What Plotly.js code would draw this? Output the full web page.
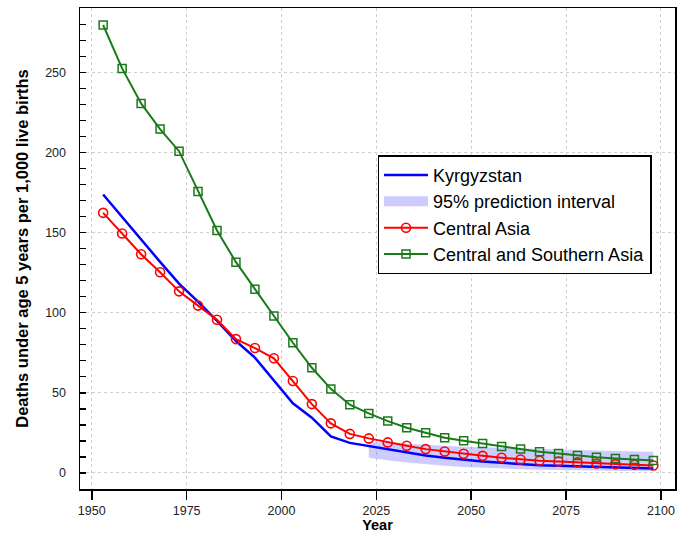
<!DOCTYPE html>
<html>
<head>
<meta charset="utf-8">
<script src="https://cdn.plot.ly/plotly-3.0.1.min.js"></script>
<style>html,body{margin:0;padding:0;background:#fff;}#chart{width:696px;height:539px;}</style>
</head>
<body>
<div id="chart"></div>
<script>
// Years (5-year period midpoints)
const years = [1953,1958,1963,1968,1973,1978,1983,1988,1993,1998,2003,2008,2013,2018,2023,2028,2033,2038,2043,2048,2053,2058,2063,2068,2073,2078,2083,2088,2093,2098];

// Kyrgyzstan
const kyrgyzstan = [173.9,159.9,145.3,131.8,118.2,107.0,94.9,82.4,72.0,58.0,43.5,34.5,22.8,18.8,16.8,15.1,13.0,10.9,9.5,8.2,7.2,6.4,5.5,4.9,4.5,4.1,3.6,3.2,3.0,2.8];

// Central Asia
const centralAsia = [162.4,149.5,136.6,125.3,113.4,104.5,95.7,83.6,78.0,71.6,57.4,43.0,31.0,24.4,21.6,19.1,17.0,14.9,13.4,12.0,10.7,9.5,8.4,7.6,7.2,6.6,5.9,5.5,5.1,4.7];

// Central and Southern Asia
const centralSouthernAsia = [279.7,252.6,230.7,214.7,200.9,175.7,151.4,131.6,114.7,98.0,81.3,65.7,52.5,42.6,37.2,32.4,28.2,25.1,22.0,20.1,18.4,16.6,14.9,13.2,12.2,10.9,9.9,9.1,8.4,7.8];

// 95% prediction interval for Kyrgyzstan (projection period)
const piYears = [2023,2028,2033,2038,2043,2048,2053,2058,2063,2068,2073,2078,2083,2088,2093,2098];
const piUpper = [19.5,18.8,18.1,17.5,16.9,16.4,16.0,15.6,15.2,14.9,14.6,14.3,14.0,13.7,13.5,13.3];
const piLower = [9.5,8.0,6.6,5.4,4.5,3.8,3.2,2.7,2.3,2.0,1.8,1.6,1.4,1.3,1.2,1.1];

// Axis ticks
const xTicks = [1950,1975,2000,2025,2050,2075,2100];
const yTicks = [0,50,100,150,200,250];

const seriesNames = ["Kyrgyzstan","95% prediction interval","Central Asia","Central and Southern Asia"];

const bandX = piYears.concat(piYears.slice().reverse());
const bandY = piUpper.concat(piLower.slice().reverse());

const traces = [
  {x: bandX, y: bandY, type:'scatter', mode:'lines', fill:'toself',
   fillcolor:'rgba(0,0,255,0.2)', line:{color:'rgba(0,0,255,0.0)', width:0},
   hoverinfo:'skip', showlegend:false},
  {x: years, y: kyrgyzstan, type:'scatter', mode:'lines', name: seriesNames[0],
   line:{color:'#0000ff', width:2.5}, legendrank:1},
  {x:[null], y:[null], type:'scatter', mode:'lines', name: seriesNames[1],
   line:{color:'rgba(204,204,255,1)', width:10}, legendrank:2},
  {x: years, y: centralAsia, type:'scatter', mode:'lines+markers', name: seriesNames[2],
   line:{color:'#ff0000', width:2},
   marker:{symbol:'circle-open', size:9, color:'#ff0000', line:{width:1.6, color:'#ff0000'}}, legendrank:3},
  {x: years, y: centralSouthernAsia, type:'scatter', mode:'lines+markers', name: seriesNames[3],
   line:{color:'#1a7a1a', width:2},
   marker:{symbol:'square-open', size:8, color:'#1a7a1a', line:{width:1.5, color:'#1a7a1a'}}, legendrank:4}
];

const layout = {
  width:696, height:539,
  margin:{l:80, r:21, t:8, b:50},
  paper_bgcolor:'#fff', plot_bgcolor:'#fff',
  font:{family:'Arial, Liberation Sans, sans-serif', color:'#000'},
  showlegend:true,
  legend:{x:0.5, y:0.694, xanchor:'left', yanchor:'top',
    bordercolor:'#000', borderwidth:1.5, bgcolor:'#fff',
    font:{size:18, family:'Arial, Liberation Sans, sans-serif', color:'#000'},
    traceorder:'normal', itemwidth:44, tracegroupgap:0},
  xaxis:{range:[1946.9,2103.7], tickvals:xTicks, ticktext:xTicks.map(String),
    ticks:'outside', ticklen:9, tickwidth:1.5, tickcolor:'#000',
    showline:true, mirror:true, linecolor:'#000', linewidth:1.5,
    showgrid:true, gridcolor:'#cfcfcf', griddash:'dot', gridwidth:1, zeroline:false,
    tickfont:{size:12.5, color:'#222'},
    title:{text:'<b>Year</b>', font:{size:14.5, color:'#000'}, standoff:3}},
  yaxis:{range:[-10,290.3], tickvals:yTicks, ticktext:yTicks.map(String),
    ticks:'inside', ticklen:6, tickwidth:1.2, tickcolor:'#000',
    minor:{dtick:10, tick0:0, ticks:'inside', ticklen:6, tickwidth:1.2, tickcolor:'#000', showgrid:false},
    showline:true, mirror:true, linecolor:'#000', linewidth:1.5,
    showgrid:true, gridcolor:'#cfcfcf', griddash:'dot', gridwidth:1, zeroline:false,
    ticklabelstandoff:10,
    tickfont:{size:12.5, color:'#222'},
    title:{text:'<b>Deaths under age 5 years per 1,000 live births</b>', font:{size:16.5, color:'#000'}, standoff:12}}
};

Plotly.newPlot('chart', traces, layout, {displayModeBar:false, staticPlot:true});
</script>
</body>
</html>
